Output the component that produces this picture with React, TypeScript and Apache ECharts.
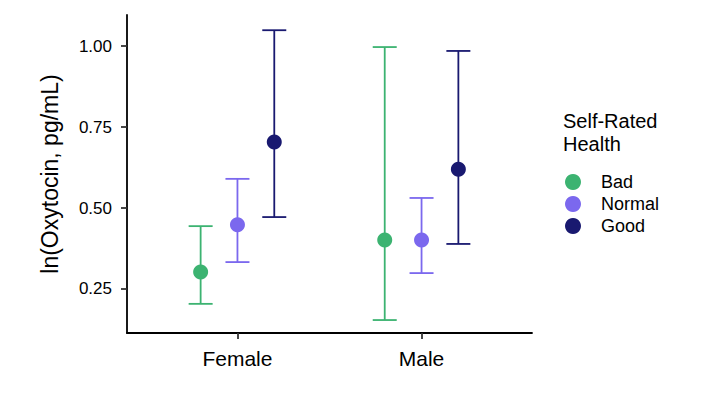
import React, { useEffect, useRef } from "react";
import * as echarts from "echarts";

const sexes = ["Female", "Male"];
const groups = ["Bad", "Normal", "Good"];
const colors = ["#3CB371", "#7B68EE", "#191970"];
// per group: values for [Female, Male]
const means = [
  [0.302, 0.401],
  [0.448, 0.401],
  [0.704, 0.62],
];
const lower = [
  [0.204, 0.154],
  [0.333, 0.299],
  [0.472, 0.389],
];
const upper = [
  [0.444, 0.997],
  [0.59, 0.531],
  [1.049, 0.985],
];
const yTicks = [0.25, 0.5, 0.75, 1.0];
const dodge = [-0.2, 0, 0.2];

const FONT = "Liberation Sans, Arial, sans-serif";

export default function App() {
  const ref = useRef<HTMLDivElement>(null);
  useEffect(() => {
    if (!ref.current) return;
    const chart = echarts.init(ref.current, undefined, { renderer: "svg" });
    const series: any[] = [];
    groups.forEach((g, gi) => {
      series.push({
        name: g + " error",
        type: "custom",
        data: sexes.map((_, si) => [si + 1 + dodge[gi], lower[gi][si], upper[gi][si]]),
        renderItem: (params: any, api: any) => {
          const x = api.value(0);
          const lo = api.coord([x, api.value(1)]);
          const hi = api.coord([x, api.value(2)]);
          const hw = 12;
          const style = { stroke: colors[gi], lineWidth: 1.8, fill: "none" };
          return {
            type: "group",
            children: [
              { type: "line", shape: { x1: lo[0], y1: lo[1], x2: hi[0], y2: hi[1] }, style },
              { type: "line", shape: { x1: lo[0] - hw, y1: lo[1], x2: lo[0] + hw, y2: lo[1] }, style },
              { type: "line", shape: { x1: hi[0] - hw, y1: hi[1], x2: hi[0] + hw, y2: hi[1] }, style },
            ],
          };
        },
        z: 2,
      });
      series.push({
        name: g,
        type: "scatter",
        symbol: "circle",
        symbolSize: 15,
        itemStyle: { color: colors[gi], opacity: 1 },
        data: sexes.map((_, si) => [si + 1 + dodge[gi], means[gi][si]]),
        z: 3,
      });
    });
    chart.setOption({
      animation: false,
      grid: { left: 127, right: 185, top: 15, bottom: 60, containLabel: false },
      xAxis: {
        type: "value",
        min: 0.4,
        max: 2.6,
        splitLine: { show: false },
        axisLine: { show: true, lineStyle: { color: "#000", width: 1.8 } },
        axisTick: { show: true, customValues: [1, 2], length: 6, lineStyle: { color: "#333", width: 1.8 } },
        axisLabel: {
          customValues: [1, 2],
          formatter: (v: number) => sexes[Math.round(v) - 1] ?? "",
          color: "#000",
          fontSize: 21,
          fontFamily: FONT,
          margin: 15,
        },
      },
      yAxis: {
        type: "value",
        min: 0.114,
        max: 1.096,
        name: "ln(Oxytocin, pg/mL)",
        nameLocation: "middle",
        nameGap: 66,
        nameRotate: 90,
        nameTextStyle: { color: "#000", fontSize: 23, fontFamily: FONT },
        splitLine: { show: false },
        axisLine: { show: true, lineStyle: { color: "#000", width: 1.8 } },
        axisTick: { show: true, customValues: yTicks, length: 6, lineStyle: { color: "#333", width: 1.8 } },
        axisLabel: {
          customValues: yTicks,
          formatter: (v: number) => v.toFixed(2),
          color: "#000",
          fontSize: 17,
          fontFamily: FONT,
          margin: 15,
        },
      },
      legend: {
        data: groups,
        orient: "vertical",
        left: 565,
        top: 173,
        padding: 0,
        itemGap: 4,
        itemWidth: 16,
        itemHeight: 16,
        icon: "circle",
        textStyle: { color: "#000", fontSize: 18, fontFamily: FONT, padding: [0, 0, 0, 15] },
      },
      graphic: [
        {
          type: "text",
          left: 563,
          top: 109,
          style: {
            text: "Self-Rated\nHealth",
            fontSize: 20,
            lineHeight: 23,
            fontFamily: FONT,
            fill: "#000",
          },
        },
      ],
      series,
    });
    return () => chart.dispose();
  }, []);
  return <div ref={ref} style={{ width: 717, height: 393, position: "absolute", left: 0, top: 0, background: "#fff" }} />;
}
